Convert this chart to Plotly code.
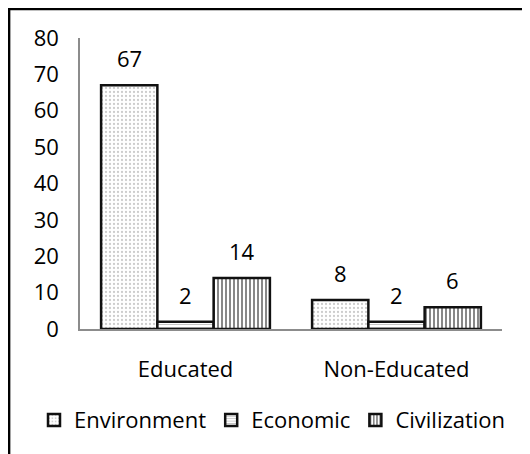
import plotly.graph_objects as go

categories = ["Educated", "Non-Educated"]
series_names = ["Environment", "Economic", "Civilization"]
environment = [67, 8]
economic = [2, 2]
civilization = [14, 6]
y_ticks = [0, 10, 20, 30, 40, 50, 60, 70, 80]

series_values = [environment, economic, civilization]
patterns = [
    dict(shape=".", fgcolor="#9a9a9a", bgcolor="#ffffff", size=4, solidity=0.25),
    dict(shape="-", fgcolor="#8a8a8a", bgcolor="#ffffff", size=3, solidity=0.35),
    dict(shape="|", fgcolor="#111111", bgcolor="#ffffff", size=4, solidity=0.5),
]

FONT = "Open Sans, DejaVu Sans, sans-serif"
fig = go.Figure()
for name, vals, pat in zip(series_names, series_values, patterns):
    fig.add_trace(go.Bar(
        x=categories, y=vals, name=name,
        marker=dict(color="#ffffff", pattern=pat,
                    line=dict(color="#111111", width=2.5)),
    ))

# value labels above bars
n = len(series_names)
bw = 0.8 / n
annotations = []
for j, vals in enumerate(series_values):
    for i, v in enumerate(vals):
        annotations.append(dict(
            x=i + (j - (n - 1) / 2) * bw, y=v, xref="x", yref="y",
            text=str(v), showarrow=False, yanchor="middle", yshift=27,
            font=dict(size=22, color="#000000", family=FONT),
        ))

fig.update_layout(
    width=522, height=446,
    margin=dict(l=72, r=28, t=30, b=125),
    paper_bgcolor="#ffffff", plot_bgcolor="#ffffff",
    barmode="group", bargap=0.2, bargroupgap=0,
    font=dict(family=FONT, size=22, color="#000000"),
    showlegend=True,
    legend=dict(orientation="h", x=-0.109, xanchor="left", y=-0.313, yanchor="middle",
                font=dict(size=22, family=FONT), itemwidth=30,
                traceorder="normal", bgcolor="rgba(0,0,0,0)"),
    annotations=annotations,
    shapes=[dict(type="rect", xref="paper", yref="paper",
                 x0=-0.168, x1=1.2, y0=-0.6, y1=1.0997,
                 line=dict(color="#000000", width=2.5), fillcolor="rgba(0,0,0,0)",
                 layer="above")],
)
fig.update_yaxes(range=[0, 80], tickvals=y_ticks, showgrid=False, zeroline=False,
                 showline=True, linecolor="#8c8c8c", linewidth=1.5,
                 ticks="", ticklabelstandoff=15, tickfont=dict(size=22, family=FONT))
fig.update_xaxes(showgrid=False, showline=True, linecolor="#8c8c8c", linewidth=2,
                 ticks="", ticklabelstandoff=20, tickfont=dict(size=22, family=FONT))

fig.write_html("out.html")
